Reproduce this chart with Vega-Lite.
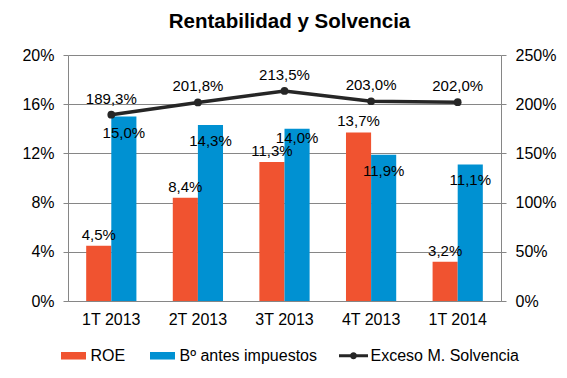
{
  "$schema": "https://vega.github.io/schema/vega-lite/v6.json",
  "width": 433,
  "height": 246,
  "autosize": "none",
  "padding": {"left": 68, "top": 55, "right": 66, "bottom": 77},
  "background": "white",
  "title": {
    "text": "Rentabilidad y Solvencia",
    "font": "Liberation Sans",
    "fontSize": 20.5,
    "fontWeight": "bold",
    "color": "black",
    "anchor": "middle",
    "frame": "group",
    "baseline": "alphabetic",
    "offset": 25,
    "dy": 26,
    "dx": 5
  },
  "config": {
    "locale": {"number": {"decimal": ",", "thousands": ".", "grouping": [3], "currency": ["", " €"]}},
    "view": {"stroke": null},
    "font": "Liberation Sans",
    "axis": {
      "labelFont": "Liberation Sans",
      "labelFontSize": 16,
      "labelColor": "black",
      "domainColor": "#868686",
      "tickColor": "#868686",
      "gridColor": "#868686",
      "title": null
    }
  },
  "data": {
    "values": [
      {"periodo": "1T 2013", "serie": "ROE", "valor": 0.045},
      {"periodo": "2T 2013", "serie": "ROE", "valor": 0.084},
      {"periodo": "3T 2013", "serie": "ROE", "valor": 0.113},
      {"periodo": "4T 2013", "serie": "ROE", "valor": 0.137},
      {"periodo": "1T 2014", "serie": "ROE", "valor": 0.032},
      {"periodo": "1T 2013", "serie": "Bº antes impuestos", "valor": 0.150},
      {"periodo": "2T 2013", "serie": "Bº antes impuestos", "valor": 0.143},
      {"periodo": "3T 2013", "serie": "Bº antes impuestos", "valor": 0.140},
      {"periodo": "4T 2013", "serie": "Bº antes impuestos", "valor": 0.119},
      {"periodo": "1T 2014", "serie": "Bº antes impuestos", "valor": 0.111},
      {"periodo": "1T 2013", "serie": "Exceso M. Solvencia", "valor": 1.893},
      {"periodo": "2T 2013", "serie": "Exceso M. Solvencia", "valor": 2.018},
      {"periodo": "3T 2013", "serie": "Exceso M. Solvencia", "valor": 2.135},
      {"periodo": "4T 2013", "serie": "Exceso M. Solvencia", "valor": 2.030},
      {"periodo": "1T 2014", "serie": "Exceso M. Solvencia", "valor": 2.020}
    ]
  },
  "encoding": {
    "x": {
      "field": "periodo",
      "type": "nominal",
      "sort": ["1T 2013", "2T 2013", "3T 2013", "4T 2013", "1T 2014"],
      "scale": {"paddingInner": 0.42, "paddingOuter": 0.21},
      "axis": {"labelAngle": 0, "ticks": false, "labelPadding": 10, "domainColor": "#868686", "labelFontSize": 16}
    }
  },
  "layer": [
    {
      "transform": [{"filter": "datum.serie !== 'Exceso M. Solvencia'"}],
      "encoding": {
        "y": {
          "field": "valor",
          "type": "quantitative",
          "scale": {"domain": [0, 0.2], "nice": false},
          "axis": {"orient": "left", "values": [0, 0.04, 0.08, 0.12, 0.16, 0.2], "format": ".0%", "grid": true, "tickSize": 5, "labelPadding": 9}
        },
        "xOffset": {
          "field": "serie",
          "type": "nominal",
          "sort": ["ROE", "Bº antes impuestos"],
          "scale": {"domain": ["ROE", "Bº antes impuestos"], "paddingInner": 0, "paddingOuter": 0}
        }
      },
      "layer": [
        {
          "mark": {"type": "bar"},
          "encoding": {
            "color": {
              "field": "serie",
              "type": "nominal",
              "scale": {
                "domain": ["ROE", "Bº antes impuestos", "Exceso M. Solvencia"],
                "range": ["#F05330", "#0091D2", "#262626"]
              },
              "legend": {
                "orient": "none",
                "direction": "horizontal",
                "legendX": -9,
                "legendY": 286,
                "title": null,
                "padding": 0,
                "symbolSize": 841,
                "symbolStrokeWidth": 0,
                "labelFont": "Liberation Sans",
                "labelFontSize": 16,
                "labelColor": "black",
                "labelOffset": 2.5,
                "columnPadding": 22,
                "labelLimit": 300,
                "encode": {
                  "symbols": {
                    "update": {
                      "shape": {"signal": "datum.value === 'Exceso M. Solvencia' ? 'M-1,-0.103H1V0.103H-1Z M-0.24,0A0.24,0.24 0 1,1 0.24,0A0.24,0.24 0 1,1 -0.24,0Z' : 'M-0.862,-0.26H0.862V0.26H-0.862Z'"},
                      "opacity": {"value": 1}
                    }
                  }
                }
              }
            }
          }
        },
        {
          "transform": [{"filter": "datum.serie === 'ROE'"}],
          "mark": {"type": "text", "dy": -6, "baseline": "alphabetic", "fontSize": 15, "font": "Liberation Sans", "color": "black"},
          "encoding": {"text": {"field": "valor", "type": "quantitative", "format": ".1%"}}
        },
        {
          "transform": [{"filter": "datum.serie === 'Bº antes impuestos' && datum.periodo !== '3T 2013'"}],
          "mark": {"type": "text", "dy": 21, "baseline": "alphabetic", "fontSize": 15, "font": "Liberation Sans", "color": "black"},
          "encoding": {"text": {"field": "valor", "type": "quantitative", "format": ".1%"}}
        },
        {
          "transform": [{"filter": "datum.serie === 'Bº antes impuestos' && datum.periodo === '3T 2013'"}],
          "mark": {"type": "text", "dy": 14, "baseline": "alphabetic", "fontSize": 15, "font": "Liberation Sans", "color": "black"},
          "encoding": {"text": {"field": "valor", "type": "quantitative", "format": ".1%"}}
        }
      ]
    },
    {
      "transform": [{"filter": "datum.serie === 'Exceso M. Solvencia'"}],
      "encoding": {
        "y": {
          "field": "valor",
          "type": "quantitative",
          "scale": {"domain": [0, 2.5], "nice": false},
          "axis": {"orient": "right", "values": [0, 0.5, 1, 1.5, 2, 2.5], "format": ".0%", "grid": false, "tickSize": 5, "labelPadding": 9}
        }
      },
      "layer": [
        {
          "mark": {"type": "line", "color": "#262626", "strokeWidth": 3.5, "point": {"filled": true, "size": 60, "color": "#262626"}}
        },
        {
          "mark": {"type": "text", "dy": -11, "baseline": "alphabetic", "fontSize": 15, "font": "Liberation Sans", "color": "black"},
          "encoding": {"text": {"field": "valor", "type": "quantitative", "format": ".1%"}}
        }
      ]
    }
  ],
  "resolve": {"scale": {"y": "independent"}}
}
